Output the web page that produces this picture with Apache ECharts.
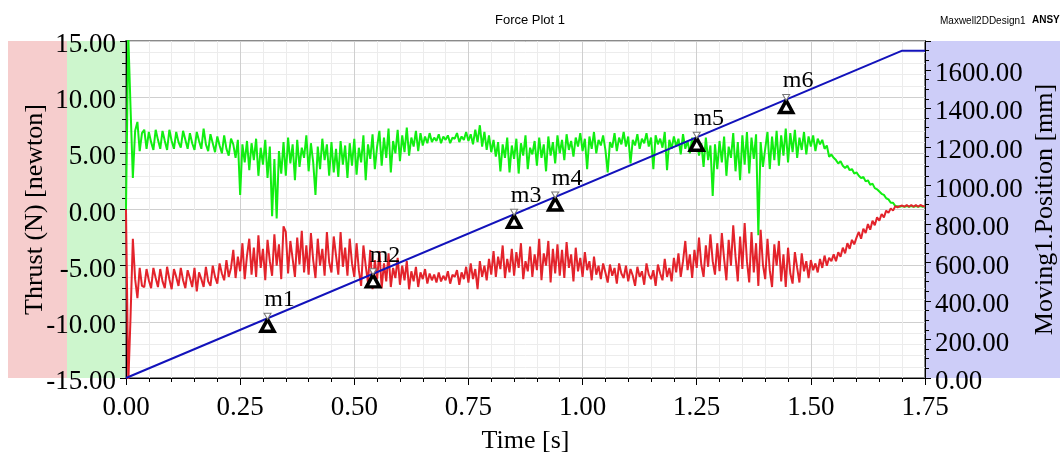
<!DOCTYPE html>
<html>
<head>
<meta charset="utf-8">
<title>Force Plot 1</title>
<script src="https://cdn.jsdelivr.net/npm/echarts@6/dist/echarts.min.js"></script>
<style>
  html, body { margin: 0; padding: 0; background: #fff; }
  #chart { width: 1060px; height: 457px; }
</style>
</head>
<body>
<div id="chart"></div>
<script>
// sample spacing of the two thrust traces, in seconds
const TIME_STEP = 0.005;

// green thrust trace [newton], one value per TIME_STEP from t = 0
const thrustGreen = [
  0, 15.5, 9.0, 2.8, 7.0, 7.8, 5.2, 6.8, 7.1, 5.4,
  6.9, 6.0, 5.3, 7.1, 6.2, 5.4, 7.0, 6.1, 5.3, 7.1,
  6.1, 5.4, 6.9, 6.0, 5.5, 7.0, 6.2, 5.4, 6.8, 5.9,
  5.3, 6.9, 6.1, 5.4, 7.2, 5.8, 5.2, 6.7, 5.9, 5.1,
  6.5, 5.7, 5.0, 6.6, 5.4, 4.8, 6.3, 5.8, 4.6, 6.2,
  1.3, 5.8, 4.2, 6.1, 3.5, 5.9, 4.4, 6.3, 3.0, 5.5,
  4.0, 6.2, 2.8, 5.6, -0.6, 4.5, -0.8, 5.2, 3.2, 6.0,
  3.0, 6.4, 4.1, 5.8, 2.6, 6.2, 3.8, 5.5, 4.6, 6.6,
  3.4, 5.9, 4.2, 1.3, 5.6, 3.6, 6.3, 4.4, 5.8, 3.0,
  6.0, 3.3, 5.4, 2.9, 6.1, 4.0, 5.7, 2.8, 5.9, 3.9,
  6.3, 3.1, 5.5, 4.2, 6.6, 2.6, 5.8, 4.5, 6.7, 3.6,
  5.6, 7.0, 3.9, 6.4, 4.6, 7.2, 3.3, 6.1, 5.0, 7.1,
  4.3, 6.6, 5.1, 7.3, 4.8, 6.4, 5.6, 7.0, 5.2, 6.8,
  5.7, 6.5, 5.9, 6.8, 6.0, 6.4, 6.1, 6.7, 5.9, 6.5,
  6.2, 6.6, 5.9, 6.4, 6.3, 6.8, 6.0, 6.5, 6.2, 6.9,
  6.1, 6.7, 5.8, 7.1, 6.0, 7.5, 5.6, 6.9, 5.3, 6.6,
  5.1, 6.2, 4.7, 6.0, 3.4, 5.8, 4.6, 6.4, 3.3, 5.7,
  4.5, 6.3, 3.2, 5.9, 4.8, 6.6, 3.6, 5.5, 4.9, 6.1,
  3.9, 6.4, 4.6, 5.8, 3.4, 6.5, 4.8, 6.0, 4.1, 6.6,
  5.0, 6.2, 4.4, 6.7, 5.3, 6.1, 4.7, 6.4, 5.6, 6.8,
  5.2, 6.3, 3.6, 6.5, 5.4, 6.9, 5.0, 6.2, 5.7, 6.6,
  5.3, 3.3, 6.0, 5.5, 6.8, 5.2, 6.4, 5.8, 6.9, 5.6,
  6.5, 4.1, 6.2, 5.7, 6.7, 5.4, 6.3, 5.9, 6.8, 5.6,
  6.4, 3.6, 6.6, 5.8, 6.3, 5.5, 6.9, 3.5, 6.2, 5.4,
  6.5, 5.6, 6.3, 4.9, 6.7, 5.4, 6.1, 5.0, 6.4, 5.2,
  6.3, 4.8, 5.9, 3.8, 6.4, 4.4, 5.7, 1.2, 5.8, 3.6,
  6.1, 4.2, 6.5, 3.0, 5.6, 4.6, 6.8, 3.4, 6.0, 2.6,
  6.6, 4.0, 6.9, 3.2, 6.4, 4.5, 6.7, -2.3, 6.0, 3.8,
  5.4, 6.9, 3.6, 6.5, 4.4, 7.0, 3.9, 6.6, 4.8, 7.2,
  4.2, 6.8, 5.1, 7.1, 4.6, 6.4, 5.3, 6.9, 4.9, 6.5,
  5.6, 6.6, 5.2, 6.3, 5.8, 6.2, 5.4, 5.7, 4.7, 4.9,
  4.6, 4.4, 4.1, 4.3, 3.9, 3.7, 3.9, 3.5, 3.6, 3.2,
  3.3, 3.0, 2.8, 2.9, 2.5, 2.6, 2.2, 2.3, 1.9, 1.8,
  1.6, 1.4, 1.3, 1.0, 0.9, 0.6, 0.6, 0.3, 0.3, 0.25,
  0.3, 0.25, 0.3, 0.25, 0.3, 0.25, 0.3, 0.25, 0.3, 0.25,
  0.3
];

// red thrust trace [newton], same sampling
const thrustRed = [
  0, -15.5, -9.5, -2.6, -6.2, -7.9, -5.2, -6.8, -6.9, -5.3,
  -6.3, -7.0, -5.2, -6.1, -6.9, -5.3, -6.4, -7.0, -5.1, -6.2,
  -7.1, -5.3, -6.0, -6.8, -5.2, -6.3, -7.0, -5.4, -6.1, -6.9,
  -5.2, -7.3, -5.6, -6.2, -6.9, -5.1, -6.4, -6.8, -5.0, -6.0,
  -6.6, -4.8, -5.7, -6.3, -4.5, -6.0, -5.2, -3.6, -6.1, -4.2,
  -5.5, -3.0, -6.2, -4.1, -2.6, -5.8, -3.4, -6.0, -2.3, -5.2,
  -3.5, -6.3, -2.7, -4.6, -5.9, -2.2, -5.0, -3.1, -6.2, -1.5,
  -2.0, -5.7, -2.8, -4.4, -6.0, -2.5, -4.9, -1.9, -5.6, -3.2,
  -5.8, -2.1, -4.5, -6.1, -2.6, -5.0, -3.5, -5.9, -2.0, -4.7,
  -5.6, -2.4, -4.1, -5.8, -2.0, -5.1, -3.4, -5.9, -2.6, -4.8,
  -6.0, -3.0, -5.4, -6.8, -3.2, -5.0, -6.5, -3.6, -7.1, -4.5,
  -6.2, -3.7, -7.0, -4.8, -6.4, -3.9, -6.9, -5.2, -6.1, -4.3,
  -6.7, -5.0, -6.3, -4.6, -7.1, -5.5, -6.4, -5.1, -6.9, -5.6,
  -6.2, -5.3, -6.6, -5.7, -6.3, -5.8, -6.5, -5.6, -6.4, -5.9,
  -6.3, -5.5, -6.6, -5.8, -6.0, -5.4, -6.7, -5.6, -6.2, -5.1,
  -6.5, -4.8, -6.2, -5.3, -7.1, -4.6, -6.0, -5.0, -6.3, -4.4,
  -5.8, -3.7, -6.0, -4.2, -5.3, -3.2, -6.1, -4.4, -5.6, -3.5,
  -5.9, -3.8, -5.2, -3.0, -6.2, -4.6, -5.5, -3.3, -6.0, -4.0,
  -5.4, -2.6, -6.3, -3.9, -5.0, -2.8, -6.5, -3.5, -5.7, -3.1,
  -5.9, -3.6, -6.1, -2.9, -5.2, -4.0, -6.4, -3.4, -5.5, -4.3,
  -6.0, -3.8, -5.4, -4.6, -6.3, -4.2, -5.8, -5.0, -6.2, -4.8,
  -5.6, -6.5, -4.9, -5.9, -5.2, -6.6, -4.8, -5.7, -6.1, -5.0,
  -6.4, -5.3, -5.9, -6.8, -5.1, -6.0, -5.5, -6.7, -4.8, -5.8,
  -6.2, -5.4, -6.8, -4.9, -5.7, -6.3, -4.4, -6.0, -5.2, -6.4,
  -4.3, -5.6, -3.9, -6.0, -4.6, -2.8, -5.4, -4.0, -6.1, -3.6,
  -5.2, -2.5, -4.9, -6.0, -3.2, -5.1, -2.2, -4.6, -5.8, -3.0,
  -5.5, -2.1, -4.4, -6.3, -2.7, -5.0, -1.4, -4.2, -6.4, -2.4,
  -5.3, -1.2, -4.6, -6.5, -2.0, -5.6, -3.0, -6.8, -1.8, -4.9,
  -6.2, -2.6, -5.4, -6.9, -3.1, -5.0, -2.8, -6.4, -4.0, -6.9,
  -3.4, -5.7, -6.6, -3.8, -5.2, -6.5, -3.9, -5.5, -4.6, -6.1,
  -4.5, -5.4, -4.8, -5.6, -4.4, -5.2, -4.1, -5.0, -4.3, -4.6,
  -4.0, -4.6, -3.8, -4.2, -3.4, -3.9, -3.0, -3.5, -2.7, -3.1,
  -2.5, -2.0, -2.6, -1.7, -2.1, -1.3, -1.8, -1.0, -1.4, -0.7,
  -1.0, -0.4, -0.7, -0.1, -0.3, 0.1, -0.1, 0.3, 0.2, 0.3,
  0.35, 0.25, 0.4, 0.25, 0.4, 0.25, 0.4, 0.25, 0.4, 0.3,
  0.3
];

// Moving1.Position [mm] (right axis)
const positionTime = [0, 1.70, 1.75];
const positionMm = [0, 1700, 1700];

// markers on the position curve
const markerNames = ['m1', 'm2', 'm3', 'm4', 'm5', 'm6'];
const markerTime = [0.310, 0.541, 0.850, 0.940, 1.250, 1.446];
const markerPos = [310, 541, 850, 940, 1250, 1446];

const SERIF = "'Liberation Serif', 'Times New Roman', serif";
const NARROW = "'Liberation Sans Narrow', 'Liberation Sans', Arial, sans-serif";

const toPairs = vals => vals.map((v, i) => [+(i * TIME_STEP).toFixed(4), v]);
const markerData = markerNames.map((n, i) => [markerTime[i], markerPos[i], n]);

const chart = echarts.init(document.getElementById('chart'), null, { renderer: 'canvas' });

// tick labels sit a little below their tick, as in the original plot
const yLabelStyle = {
  fontFamily: SERIF, fontSize: 27, color: '#000',
  verticalAlign: 'top', lineHeight: 8,
  formatter: v => v.toFixed(2)
};

chart.setOption({
  animation: false,
  backgroundColor: '#ffffff',
  title: [
    { text: 'Force Plot 1', left: 'center', top: 9,
      textStyle: { fontFamily: NARROW, fontSize: 13, fontWeight: 'normal', color: '#000' } },
    { text: 'Maxwell2DDesign1', left: 935, top: 11,
      textStyle: { fontFamily: NARROW, fontSize: 10, fontWeight: 'normal', color: '#000' } },
    { text: 'ANSYS', left: 1027, top: 10,
      textStyle: { fontFamily: NARROW, fontSize: 10, fontWeight: 'bold', color: '#000' } }
  ],
  graphic: [
    { type: 'rect', z: -10, shape: { x: 8, y: 41, width: 59, height: 337 }, style: { fill: '#f6cdcd' } },
    { type: 'rect', z: -10, shape: { x: 67, y: 41, width: 59, height: 337 }, style: { fill: '#cdf6cd' } },
    { type: 'rect', z: -10, shape: { x: 925, y: 41, width: 135, height: 337 }, style: { fill: '#cdcdf8' } }
  ],
  grid: {
    left: 126, right: 135, top: 41, bottom: 79,
    outerBoundsMode: 'none', containLabel: false,
    show: true, borderColor: '#8a8a8a', borderWidth: 2
  },
  xAxis: {
    type: 'value', min: 0, max: 1.75, interval: 0.25,
    name: 'Time [s]', nameLocation: 'middle', nameGap: 50, nameMoveOverlap: false,
    nameTextStyle: { fontFamily: SERIF, fontSize: 26, color: '#000' },
    axisLine: { onZero: false, lineStyle: { color: '#000', width: 1 } },
    axisTick: { inside: false, length: 7, lineStyle: { color: '#000' } },
    minorTick: { show: true, splitNumber: 5, length: 4, lineStyle: { color: '#000' } },
    axisLabel: { fontFamily: SERIF, fontSize: 27, color: '#000', margin: 16,
      formatter: v => v.toFixed(2) },
    splitLine: { show: true, lineStyle: { color: '#cfcfcf', width: 1 } },
    minorSplitLine: { show: true, lineStyle: { color: '#ececec', width: 1 } }
  },
  yAxis: [
    {
      type: 'value', min: -15, max: 15, interval: 5, position: 'left',
      name: 'Thrust (N) [newton]', nameLocation: 'middle', nameGap: 78, nameMoveOverlap: false,
      nameTextStyle: { fontFamily: SERIF, fontSize: 26, color: '#000' },
      axisLine: { show: true, onZero: false, lineStyle: { color: '#000', width: 1 } },
      axisTick: { show: true, length: 6, lineStyle: { color: '#000' } },
      minorTick: { show: true, splitNumber: 5, length: 4, lineStyle: { color: '#000' } },
      axisLabel: Object.assign({ margin: 10 }, yLabelStyle),
      splitLine: { show: true, lineStyle: { color: '#cfcfcf', width: 1 } },
      minorSplitLine: { show: true, lineStyle: { color: '#ececec', width: 1 } }
    },
    {
      type: 'value', min: 0, max: 1750, interval: 200, position: 'right',
      name: 'Moving1.Position [mm]', nameLocation: 'middle', nameGap: 107, nameMoveOverlap: false,
      nameTextStyle: { fontFamily: SERIF, fontSize: 26, color: '#000' },
      axisLine: { show: true, onZero: false, lineStyle: { color: '#000', width: 1 } },
      axisTick: { show: true, length: 6, lineStyle: { color: '#000' } },
      minorTick: { show: true, splitNumber: 4, length: 4, lineStyle: { color: '#000' } },
      axisLabel: Object.assign({ margin: 10, showMaxLabel: false }, yLabelStyle),
      splitLine: { show: false }
    }
  ],
  series: [
    {
      name: 'green', type: 'line', yAxisIndex: 0, data: toPairs(thrustGreen),
      showSymbol: false, symbol: 'none', clip: true,
      lineStyle: { color: '#11ee11', width: 2 }, z: 2
    },
    {
      name: 'red', type: 'line', yAxisIndex: 0, data: toPairs(thrustRed),
      showSymbol: false, symbol: 'none', clip: true,
      lineStyle: { color: '#e3232b', width: 2 }, z: 3
    },
    {
      name: 'position', type: 'line', yAxisIndex: 1,
      data: positionTime.map((t, i) => [t, positionMm[i]]),
      showSymbol: false, symbol: 'none',
      lineStyle: { color: '#1212bb', width: 2 }, z: 4
    },
    {
      name: 'markers', type: 'scatter', yAxisIndex: 1, data: markerData,
      symbol: 'triangle', symbolSize: [13, 12], symbolOffset: [0, 7],
      itemStyle: { color: '#ffffff', borderColor: '#000', borderWidth: 3.5, opacity: 1 }, z: 5
    },
    {
      name: 'markerTops', type: 'scatter', yAxisIndex: 1, data: markerData,
      symbol: 'triangle', symbolRotate: 180, symbolSize: [7, 6], symbolOffset: [0, -2],
      itemStyle: { color: '#ffffff', borderColor: '#777', borderWidth: 1, opacity: 1 },
      label: { show: true, position: 'top', distance: 1, offset: [12, 0],
        formatter: p => p.data[2],
        fontFamily: SERIF, fontSize: 24, color: '#000' },
      z: 6
    }
  ]
});
</script>
</body>
</html>
